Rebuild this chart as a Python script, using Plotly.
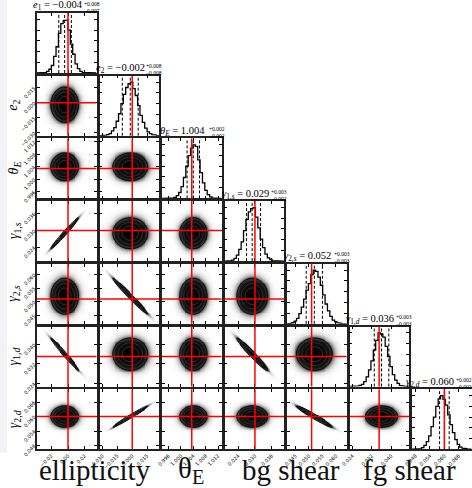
import numpy as np
import plotly.graph_objects as go

W, H = 472, 488

# ---------------- data ----------------
labels = ["<i>e</i><sub>2</sub>", "<i>θ<sub>E</sub></i>", "<i>γ</i><sub>1,<i>s</i></sub>",
          "<i>γ</i><sub>2,<i>s</i></sub>", "<i>γ</i><sub>1,<i>d</i></sub>", "<i>γ</i><sub>2,<i>d</i></sub>"]
title_symbols = ["<i>e</i><sub>1</sub>", "<i>e</i><sub>2</sub>", "<i>θ<sub>E</sub></i>",
                 "<i>γ</i><sub>1,<i>s</i></sub>", "<i>γ</i><sub>2,<i>s</i></sub>",
                 "<i>γ</i><sub>1,<i>d</i></sub>", "<i>γ</i><sub>2,<i>d</i></sub>"]
truths = [0.0, 0.0, 1.0035, 0.030, 0.051, 0.035, 0.060]
medians = [-0.004, -0.002, 1.004, 0.029, 0.052, 0.036, 0.060]
err_plus = [0.008, 0.008, 0.002, 0.003, 0.003, 0.003, 0.002]
err_minus = [0.007, 0.008, 0.002, 0.002, 0.003, 0.003, 0.002]
axis_lo = [-0.037, -0.033, 0.9939, 0.0191, 0.0419, 0.0228, 0.0465]
axis_hi = [0.034, 0.027, 1.0131, 0.0404, 0.0639, 0.0473, 0.0713]
ticks = [
    [-0.02, 0.0, 0.02],
    [-0.03, -0.015, 0.0, 0.015],
    [0.996, 1.0, 1.004, 1.008, 1.012],
    [0.024, 0.030, 0.036],
    [0.045, 0.050, 0.055, 0.060],
    [0.024, 0.032, 0.040],
    [0.048, 0.054, 0.060, 0.066],
]
tick_fmt = [".2f", ".3f", ".3f", ".3f", ".3f", ".3f", ".3f"]
hist_e1 = [0, 0, 0, 1, 3, 7, 14, 31, 49, 74, 92, 98, 99, 80, 54, 35, 17, 8, 3, 1, 1, 0, 0, 0, 0]
hist_e2 = [0, 0, 1, 2, 4, 9, 15, 27, 41, 60, 77, 90, 97, 100, 88, 75, 56, 38, 25, 14, 7, 4, 2, 1, 0]
hist_thetaE = [0, 0, 0, 0, 1, 2, 5, 11, 22, 39, 60, 80, 94, 100, 97, 72, 48, 29, 15, 7, 3, 1, 0, 0, 0]
hist_g1s = [0, 0, 1, 2, 5, 11, 22, 36, 57, 78, 92, 98, 100, 82, 62, 41, 25, 13, 6, 3, 1, 0, 0, 0, 0]
hist_g2s = [0, 1, 2, 5, 10, 19, 31, 46, 63, 75, 92, 100, 98, 87, 72, 54, 37, 24, 14, 7, 4, 2, 1, 0, 0]
hist_g1d = [0, 0, 0, 1, 2, 4, 9, 18, 31, 48, 68, 86, 100, 98, 92, 75, 56, 37, 22, 12, 6, 2, 1, 0, 0]
hist_g2d = [0, 0, 0, 1, 3, 7, 14, 25, 42, 60, 80, 94, 100, 93, 82, 64, 46, 31, 18, 9, 4, 2, 1, 0, 0]
hists = [hist_e1, hist_e2, hist_thetaE, hist_g1s, hist_g2s, hist_g1d, hist_g2d]
# correlation (row param, column param) for lower-triangle panels
correlations = {
    (3, 0): 0.985, (4, 1): -0.985, (5, 0): -0.985, (5, 3): -0.97,
    (6, 1): 0.985, (6, 4): -0.97,
}
group_labels = ["ellipticity", "θ<sub>E</sub>", "bg shear", "fg shear"]
group_centers_px = [95, 191, 291, 409]

# ---------------- layout geometry ----------------
NP = 7
left0, colpitch, pw = 37.0, 62.5, 59.5
top0, rowpitch, ph = 13.0, 62.7, 60.0


def xdom(i):
    return [(left0 + i * colpitch) / W, (left0 + i * colpitch + pw) / W]


def ydom(j):
    top = top0 + j * rowpitch
    return [1 - (top + ph) / H, 1 - top / H]


fig = go.Figure()
layout = {}
shapes = []
annotations = []
n = 0

gray_scale = [[0.0, "#ffffff"], [0.004, "#f8f8f8"], [0.02, "#dcdcdc"], [0.05, "#9c9c9c"],
              [0.09, "#3a3a3a"], [0.2, "#111111"], [1.0, "#000000"]]

axis_common = dict(showgrid=False, zeroline=False, ticks="inside", ticklen=3, tickwidth=1,
                   tickcolor="#000", showline=True, linecolor="#222", linewidth=1.5,
                   mirror="ticks", automargin=False,
                   tickfont=dict(size=5, color="#000", family="DejaVu Sans"))


def add_axes(i, j, yrange, yticks=None, yfmt=None, show_ylab=False):
    global n
    n += 1
    xa = "xaxis" if n == 1 else f"xaxis{n}"
    ya = "yaxis" if n == 1 else f"yaxis{n}"
    xn = "x" if n == 1 else f"x{n}"
    yn = "y" if n == 1 else f"y{n}"
    xt = ticks[i]
    layout[xa] = dict(axis_common, domain=xdom(i), anchor=yn, range=[axis_lo[i], axis_hi[i]],
                      tickvals=xt, ticktext=[format(v, tick_fmt[i]).replace("-", "−") for v in xt],
                      showticklabels=(j == NP - 1), tickangle=-45)
    yd = dict(axis_common, domain=ydom(j), anchor=xn, range=yrange, showticklabels=show_ylab,
              tickangle=-45)
    if yticks is not None:
        yd["tickvals"] = yticks
        yd["ticktext"] = [format(v, yfmt).replace("-", "−") for v in yticks]
    else:
        yd["tickvals"] = [20, 40, 60, 80, 100]
    layout[ya] = yd
    return xn, yn


for j in range(NP):
    for i in range(j + 1):
        if i == j:
            # 1D histogram
            xn, yn = add_axes(i, j, [0, 112])
            counts = np.array(hists[i], dtype=float)
            edges = np.linspace(axis_lo[i], axis_hi[i], len(counts) + 1)
            xs = np.repeat(edges, 2)
            ys = np.concatenate([[0], np.repeat(counts, 2), [0]])
            fig.add_trace(go.Scatter(x=xs, y=ys, mode="lines", line=dict(color="#000", width=1.3),
                                     xaxis=xn, yaxis=yn, hoverinfo="skip", showlegend=False))
            for q in [medians[i] - err_minus[i], medians[i], medians[i] + err_plus[i]]:
                shapes.append(dict(type="line", xref=xn, yref=f"{yn} domain", x0=q, x1=q, y0=0, y1=1,
                                   line=dict(color="#000", width=1, dash="3px,2px")))
            shapes.append(dict(type="line", xref=xn, yref=f"{yn} domain", x0=truths[i], x1=truths[i],
                               y0=0, y1=1, line=dict(color="#ff0000", width=1.5)))
            # title: main text centred left of the stacked errors
            cx = left0 + i * colpitch + pw / 2
            if i == NP - 1:
                cx -= 3
            ty = top0 + j * rowpitch
            main = f"{title_symbols[i]} = {medians[i]:.3f}".replace("-", "−")
            annotations.append(dict(x=(cx - 9) / W, y=1 - (ty + 0.5) / H, xref="paper", yref="paper",
                                    text=main, showarrow=False, xanchor="center", yanchor="bottom",
                                    font=dict(family="Liberation Serif", size=10.5, color="#000"),
                                    borderpad=0))
            errs = f"+{err_plus[i]:.3f}<br>−{err_minus[i]:.3f}"
            annotations.append(dict(x=(cx + 16) / W, y=1 - (ty - 6) / H, xref="paper", yref="paper",
                                    text=errs, showarrow=False, xanchor="left", yanchor="middle",
                                    font=dict(family="Liberation Serif", size=5.5, color="#000"),
                                    borderpad=0))
        else:
            xn, yn = add_axes(i, j, [axis_lo[j], axis_hi[j]], ticks[j], tick_fmt[j], show_ylab=(i == 0))
            rho = correlations.get((j, i), 0.0)
            sx = (err_plus[i] + err_minus[i]) / 2
            sy = (err_plus[j] + err_minus[j]) / 2
            ng = 64
            dx = (axis_hi[i] - axis_lo[i]) / ng
            dy = (axis_hi[j] - axis_lo[j]) / ng
            xc = axis_lo[i] + dx * (np.arange(ng) + 0.5)
            yc = axis_lo[j] + dy * (np.arange(ng) + 0.5)
            X, Y = np.meshgrid(xc, yc)
            u = (X - medians[i]) / sx
            v = (Y - medians[j]) / sy
            Q = (u ** 2 - 2 * rho * u * v + v ** 2) / (1 - rho ** 2)
            dens = np.exp(-0.5 * Q)
            fig.add_trace(go.Heatmap(x=xc, y=yc, z=dens, zmin=0, zmax=1, colorscale=gray_scale,
                                     showscale=False, xaxis=xn, yaxis=yn, hoverinfo="skip"))
            for lev, col, lw in [(0.09, "#000000", 1.0), (0.3, "#3c3c3c", 0.7), (0.6, "#4a4a4a", 0.6)]:
                fig.add_trace(go.Contour(x=xc, y=yc, z=dens, showscale=False, xaxis=xn, yaxis=yn,
                                         contours=dict(coloring="none", start=lev, end=lev, size=1),
                                         line=dict(color=col, width=lw), hoverinfo="skip"))
            shapes.append(dict(type="line", xref=xn, yref=f"{yn} domain", x0=truths[i], x1=truths[i],
                               y0=0, y1=1, line=dict(color="#ff0000", width=1.5)))
            shapes.append(dict(type="line", xref=f"{xn} domain", yref=yn, x0=0, x1=1, y0=truths[j],
                               y1=truths[j], line=dict(color="#ff0000", width=1.5)))

# row labels on the left
for j in range(1, NP):
    cy = top0 + j * rowpitch + ph / 2
    annotations.append(dict(x=14 / W, y=1 - cy / H, xref="paper", yref="paper", text=labels[j - 1],
                            showarrow=False, textangle=-90, xanchor="center", yanchor="middle",
                            font=dict(family="Liberation Serif", size=14, color="#000")))

# bottom group labels
for txt, cxp in zip(group_labels, group_centers_px):
    annotations.append(dict(x=cxp / W, y=1 - 470 / H, xref="paper", yref="paper", text=txt,
                            showarrow=False, xanchor="center", yanchor="middle",
                            font=dict(family="Liberation Serif", size=29, color="#111")))

# faint page stripe at far left
shapes.insert(0, dict(type="rect", xref="paper", yref="paper", x0=0, x1=7 / W, y0=1 - 453 / H, y1=1,
                      fillcolor="#f1f3f6", line=dict(width=0), layer="below"))

fig.update_layout(width=W, height=H, margin=dict(l=0, r=0, t=0, b=0), paper_bgcolor="white",
                  plot_bgcolor="white", showlegend=False, shapes=shapes, annotations=annotations,
                  **layout)
fig.write_html("out.html", config={"displayModeBar": False},
               post_script="document.body.style.margin='0px';document.body.style.overflow='hidden';")
